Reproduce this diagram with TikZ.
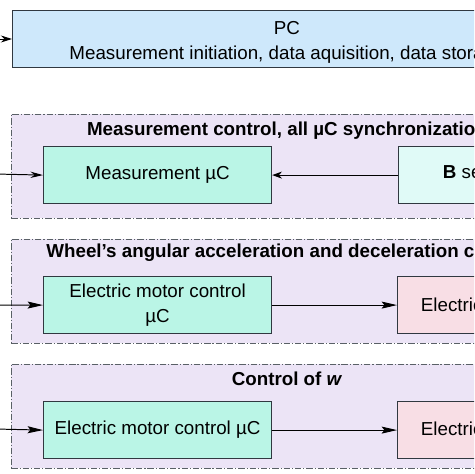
\documentclass[tikz,border=0pt]{standalone}
\usepackage{fontspec}
\setmainfont{Liberation Sans}
\usetikzlibrary{arrows.meta,positioning}

\definecolor{pcblue}{RGB}{206,232,251}
\definecolor{grouplila}{RGB}{236,228,246}
\definecolor{mcgreen}{RGB}{186,245,230}
\definecolor{sensgreen}{RGB}{224,250,247}
\definecolor{drvpink}{RGB}{248,222,229}
\definecolor{frame}{RGB}{48,56,64}

\newcommand{\boxfont}{\fontsize{13.4}{17.8}\selectfont}

\tikzset{
  box/.style={draw=frame, line width=0.85pt, minimum width=162.8pt, minimum height=40.7pt,
    inner sep=0pt, align=center, font=\boxfont},
  group/.style={draw=frame!80, fill=grouplila, line width=0.5pt,
    dash pattern=on 4.5pt off 1.4pt on 0.8pt off 1.4pt,
    minimum width=492pt, minimum height=74.3pt, inner sep=0pt},
  grouptitle/.style={font=\boxfont\bfseries},
  conn/.style={line width=0.7pt, draw=black},
}

\begin{document}
\begin{tikzpicture}[x=0.714pt,y=-0.714pt]
		\useasboundingbox (0,0) rectangle (474,474);
		\clip (0,0) rectangle (474,474);
		% PC
		\node[box, fill=pcblue, minimum width=477pt, anchor=north west] (pc) at (12,10) {};
		\node[font=\boxfont] (pctitle) at (287,28) {PC};
		\node[font=\boxfont] (pctext) at (287,55) {Measurement initiation, data aquisition, data storage};
		\coordinate (pcin) at (-5,39);
		\draw[conn, -{Stealth[length=8pt,width=5pt]}] (pcin) -- (pcin -| pc.west);
		% measurement control
		\node[group, anchor=north west] (meas) at (11,114) {};
		\node[grouptitle] (meastitle) at (287,131) {Measurement control, all µC synchronization};
		\node[box, fill=mcgreen, anchor=north west] (measmc) at (43,146) {Measurement µC};
		\node[box, fill=sensgreen, anchor=north west] (bsens) at (398,146) {};
		\node[font=\boxfont, anchor=west] (bsenstext) at (438,174) {\textbf{B} sensor µC};
		\coordinate (measin) at (-5,174);
		\draw[conn, -{Stealth[length=9pt,width=4.5pt,inset=3pt]}] (measin) -- (measmc.west);
		\draw[conn, -{Stealth[length=7pt,width=5pt]}] (bsens.west) -- (measmc.east);
		% wheel acceleration
		\node[group, anchor=north west] (wheel) at (11,239) {};
		\node[grouptitle] (wheeltitle) at (287,253) {Wheel’s angular acceleration and deceleration control};
		\node[box, fill=mcgreen, anchor=north west] (motormc) at (43,276) {Electric motor control\\µC};
		\node[box, fill=drvpink, anchor=north west] (motor) at (397,276) {};
		\node[font=\boxfont, anchor=west] (motortext) at (416,305) {Electric motor};
		\coordinate (wheelin) at (-5,305);
		\draw[conn, -{Stealth[length=11pt,width=5pt,inset=2pt]}] (wheelin) -- (motormc.west);
		\draw[conn, -{Stealth[length=11pt,width=5pt,inset=2pt]}] (motormc.east) -- (motor.west);
		% control of w
		\node[group, anchor=north west] (wctrl) at (11,364) {};
		\node[grouptitle] (wtitle) at (287,379) {Control of \textit{w}};
		\node[box, fill=mcgreen, anchor=north west] (wmc) at (43,401) {Electric motor control µC};
		\node[box, fill=drvpink, anchor=north west] (wmotor) at (397,401) {};
		\node[font=\boxfont, anchor=west] (wmotortext) at (416,429) {Electric motor};
		\coordinate (wctrlin) at (-5,429);
		\draw[conn, -{Stealth[length=11pt,width=5pt,inset=2pt]}] (wctrlin) -- (wmc.west);
		\draw[conn, -{Stealth[length=11pt,width=5pt,inset=2pt]}] (wmc.east) -- (wmotor.west);
\end{tikzpicture}
\end{document}
